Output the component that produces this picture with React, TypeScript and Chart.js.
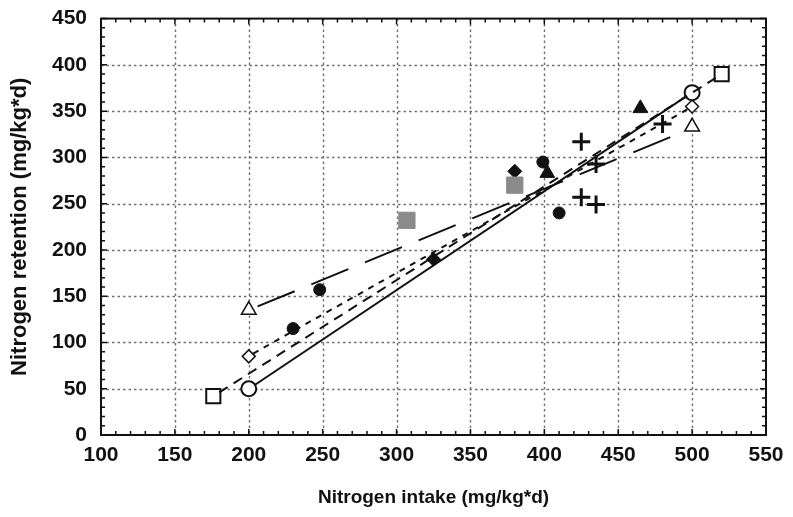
import React, { useEffect, useRef } from 'react';
import { Chart, registerables } from 'chart.js';
Chart.register(...registerables);

// Axis ticks
const xTickValues = [100, 150, 200, 250, 300, 350, 400, 450, 500, 550];
const yTickValues = [0, 50, 100, 150, 200, 250, 300, 350, 400, 450];
const xTitle = 'Nitrogen intake (mg/kg*d)';
const yTitle = 'Nitrogen retention (mg/kg*d)';

// Marker groups
const openSquareX = [176, 520];
const openSquareY = [42, 390];
const openCircleX = [200, 500];
const openCircleY = [50, 370];
const openDiamondX = [200, 500];
const openDiamondY = [85, 355];
const openTriangleX = [200, 500];
const openTriangleY = [135, 333];
const filledCircleX = [230, 248, 399, 410];
const filledCircleY = [115, 157, 295, 240];
const filledDiamondX = [325, 380];
const filledDiamondY = [190, 285];
const filledTriangleX = [402, 465];
const filledTriangleY = [283, 353];
const greySquareX = [307, 380];
const greySquareY = [232, 270];
const plusX = [425, 435, 425, 435, 480];
const plusY = [317, 293, 257, 249, 336];

// Regression lines (end points)
const solidLineX = [204, 496];
const solidLineY = [54, 366];
const shortDashLineX = [203, 497];
const shortDashLineY = [88, 352];
const mediumDashLineX = [180, 516];
const mediumDashLineY = [46, 386];
const longDashLineX = [206, 490];
const longDashLineY = [139, 325];

const pts = (xs: number[], ys: number[]) => xs.map((x, i) => ({ x, y: ys[i] }));

const TICK_FONT = "'Liberation Sans', Arial, sans-serif";

const framePlugin = {
  id: 'frame',
  beforeDatasetsDraw(chart: any) {
    const { ctx, chartArea, scales } = chart;
    const { left, right, top, bottom } = chartArea;
    const x = scales.x;
    const y = scales.y;
    ctx.save();
    // dotted grid
    ctx.strokeStyle = '#6f6f6f';
    ctx.lineWidth = 1.4;
    ctx.setLineDash([2.5, 3]);
    for (const v of xTickValues) {
      if (v === xTickValues[0] || v === xTickValues[xTickValues.length - 1]) continue;
      const px = Math.round(x.getPixelForValue(v)) + 0.5;
      ctx.beginPath();
      ctx.moveTo(px, top);
      ctx.lineTo(px, bottom);
      ctx.stroke();
    }
    for (const v of yTickValues) {
      if (v === yTickValues[0] || v === yTickValues[yTickValues.length - 1]) continue;
      const py = Math.round(y.getPixelForValue(v)) + 0.5;
      ctx.beginPath();
      ctx.moveTo(left, py);
      ctx.lineTo(right, py);
      ctx.stroke();
    }
    ctx.setLineDash([]);
    // inward ticks on all sides
    ctx.strokeStyle = '#111';
    ctx.lineWidth = 1.5;
    for (let v = xTickValues[0]; v <= xTickValues[xTickValues.length - 1]; v += 10) {
      const px = x.getPixelForValue(v);
      const len = v % 50 === 0 ? 6 : 4;
      ctx.beginPath();
      ctx.moveTo(px, bottom);
      ctx.lineTo(px, bottom - len);
      ctx.moveTo(px, top);
      ctx.lineTo(px, top + len);
      ctx.stroke();
    }
    for (let v = yTickValues[0]; v <= yTickValues[yTickValues.length - 1]; v += 10) {
      const py = y.getPixelForValue(v);
      const len = v % 50 === 0 ? 6 : 4;
      ctx.beginPath();
      ctx.moveTo(left, py);
      ctx.lineTo(left + len, py);
      ctx.moveTo(right, py);
      ctx.lineTo(right - len, py);
      ctx.stroke();
    }
    // frame
    ctx.strokeStyle = '#111';
    ctx.lineWidth = 2;
    ctx.strokeRect(left, top, right - left, bottom - top);
    ctx.restore();
  },
};

export default function App() {
  const ref = useRef<HTMLCanvasElement>(null);
  useEffect(() => {
    document.body.style.margin = '0';
    const lineDs = (xs: number[], ys: number[], dash: number[]) => ({
      data: pts(xs, ys),
      showLine: true,
      borderColor: '#111',
      borderWidth: 2,
      borderDash: dash,
      pointRadius: 0,
      fill: false,
    });
    const markDs = (xs: number[], ys: number[], style: string, r: number, bg: string, border: string, bw: number) => ({
      data: pts(xs, ys),
      showLine: false,
      pointStyle: style,
      pointRadius: r,
      pointBackgroundColor: bg,
      pointBorderColor: border,
      pointBorderWidth: bw,
    });
    const chart = new Chart(ref.current!, {
      type: 'scatter',
      data: {
        datasets: [
          lineDs(solidLineX, solidLineY, []),
          lineDs(shortDashLineX, shortDashLineY, [6, 6]),
          lineDs(mediumDashLineX, mediumDashLineY, [10, 7]),
          lineDs(longDashLineX, longDashLineY, [40, 18]),
          markDs(greySquareX, greySquareY, 'rect', 11.5, '#8a8a8a', '#8a8a8a', 1),
          markDs(filledCircleX, filledCircleY, 'circle', 6, '#111', '#111', 1),
          markDs(filledDiamondX, filledDiamondY, 'rectRot', 7, '#111', '#111', 1),
          markDs(filledTriangleX, filledTriangleY, 'triangle', 8.5, '#111', '#111', 1),
          markDs(plusX, plusY, 'cross', 9, '#111', '#111', 3),
          markDs(openSquareX, openSquareY, 'rect', 10, '#fff', '#111', 2),
          markDs(openCircleX, openCircleY, 'circle', 7.5, '#fff', '#111', 2),
          markDs(openDiamondX, openDiamondY, 'rectRot', 6.5, '#fff', '#111', 1.5),
          markDs(openTriangleX, openTriangleY, 'triangle', 8.5, '#fff', '#111', 1.5),
        ] as any,
      },
      options: {
        animation: false,
        responsive: false,
        layout: { padding: { top: 15, right: 27, left: 0, bottom: 0 } },
        plugins: { legend: { display: false }, tooltip: { enabled: false } },
        scales: {
          x: {
            type: 'linear',
            min: 100,
            max: 550,
            afterBuildTicks: (s: any) => { s.ticks = xTickValues.map((v) => ({ value: v })); },
            afterFit: (s: any) => { s.height = 82; },
            ticks: { color: '#111', font: { family: TICK_FONT, size: 21, weight: 'bold' }, padding: 0 },
            grid: { display: false },
            border: { display: false },
            title: { display: true, text: xTitle, color: '#111', font: { family: TICK_FONT, size: 19, weight: 'bold' }, padding: { top: 0, bottom: 8 } },
          },
          y: {
            type: 'linear',
            min: 0,
            max: 450,
            afterBuildTicks: (s: any) => { s.ticks = yTickValues.map((v) => ({ value: v })); },
            afterFit: (s: any) => { s.width = 101; },
            ticks: { color: '#111', font: { family: TICK_FONT, size: 21, weight: 'bold' }, padding: 6 },
            grid: { display: false },
            border: { display: false },
            title: { display: true, text: yTitle, color: '#111', font: { family: TICK_FONT, size: 22, weight: 'bold' }, padding: { top: 7, bottom: 0 } },
          },
        },
      },
      plugins: [framePlugin],
    } as any);
    return () => chart.destroy();
  }, []);
  return (
    <div style={{ width: 793, height: 517 }}>
      <canvas ref={ref} width={793} height={517} style={{ display: 'block' }} />
    </div>
  );
}
